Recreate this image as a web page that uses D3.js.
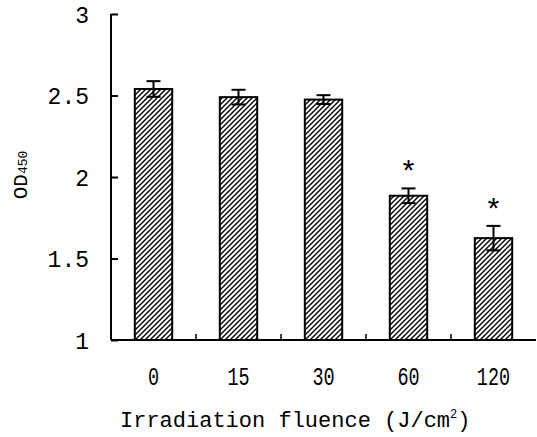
<!DOCTYPE html>
<html>
<head>
<meta charset="utf-8">
<script src="https://cdn.jsdelivr.net/npm/d3@7"></script>
<style>
  body { margin: 0; background: #fff; }
  text { font-family: "Liberation Mono", "DejaVu Sans Mono", monospace; fill: #000; }
</style>
</head>
<body>
<svg width="537" height="437"></svg>
<script>
// data
var categories = ['0', '15', '30', '60', '120'];
var means = [2.54, 2.49, 2.475, 1.885, 1.625];
var errors = [0.048, 0.045, 0.027, 0.045, 0.075];
var significant = [false, false, false, true, true];
var yTicks = [1, 1.5, 2, 2.5, 3];

var svg = d3.select('svg');
var svgWidth = +svg.attr('width');
var svgHeight = +svg.attr('height');
var padding = {t: 14, r: 1, b: 97, l: 111};

var chartWidth = svgWidth - padding.l - padding.r;
var chartHeight = svgHeight - padding.t - padding.b;

var data = categories.map(function(c, i) {
    return {cat: c, mean: means[i], err: errors[i], sig: significant[i]};
});

// hatch pattern for bars
var defs = svg.append('defs');
var pat = defs.append('pattern')
    .attr('id', 'hatch')
    .attr('patternUnits', 'userSpaceOnUse')
    .attr('width', 5)
    .attr('height', 5);
pat.append('rect').attr('width', 5).attr('height', 5).attr('fill', '#fff');
pat.append('path')
    .attr('d', 'M-1,1 l2,-2 M0,5 l5,-5 M4,6 l2,-2')
    .attr('stroke', '#000')
    .attr('stroke-width', 1.4);

var chartG = svg.append('g')
    .attr('transform', 'translate(' + [padding.l, padding.t] + ')');

var xScale = d3.scaleBand().domain(categories).range([0, chartWidth]).padding(0);
var yScale = d3.scaleLinear().domain([1, 3]).range([chartHeight, 0]);
var barWidth = xScale.bandwidth() * 0.44;

// bars
chartG.selectAll('rect.bar')
    .data(data)
    .enter()
    .append('rect')
    .attr('class', 'bar')
    .attr('x', function(d) { return xScale(d.cat) + (xScale.bandwidth() - barWidth) / 2; })
    .attr('y', function(d) { return yScale(d.mean); })
    .attr('width', barWidth)
    .attr('height', function(d) { return chartHeight - yScale(d.mean); })
    .attr('fill', 'url(#hatch)')
    .attr('stroke', '#000')
    .attr('stroke-width', 2);

// error bars
var capW = 7;
var eb = chartG.selectAll('g.err')
    .data(data)
    .enter()
    .append('g')
    .attr('class', 'err')
    .attr('stroke', '#000')
    .attr('stroke-width', 2);
eb.append('line')
    .attr('x1', function(d) { return xScale(d.cat) + xScale.bandwidth() / 2; })
    .attr('x2', function(d) { return xScale(d.cat) + xScale.bandwidth() / 2; })
    .attr('y1', function(d) { return yScale(d.mean + d.err); })
    .attr('y2', function(d) { return yScale(d.mean - d.err); });
eb.append('line')
    .attr('x1', function(d) { return xScale(d.cat) + xScale.bandwidth() / 2 - capW; })
    .attr('x2', function(d) { return xScale(d.cat) + xScale.bandwidth() / 2 + capW; })
    .attr('y1', function(d) { return yScale(d.mean + d.err); })
    .attr('y2', function(d) { return yScale(d.mean + d.err); });
eb.append('line')
    .attr('x1', function(d) { return xScale(d.cat) + xScale.bandwidth() / 2 - capW; })
    .attr('x2', function(d) { return xScale(d.cat) + xScale.bandwidth() / 2 + capW; })
    .attr('y1', function(d) { return yScale(d.mean - d.err); })
    .attr('y2', function(d) { return yScale(d.mean - d.err); });

// asterisks
chartG.selectAll('text.star')
    .data(data.filter(function(d) { return d.sig; }))
    .enter()
    .append('text')
    .attr('class', 'star')
    .attr('x', function(d) { return xScale(d.cat) + xScale.bandwidth() / 2; })
    .attr('y', function(d) { return yScale(d.mean + d.err) - 6; })
    .attr('text-anchor', 'middle')
    .style('font-size', '30px')
    .text('*');

// y axis
var yAxis = d3.axisRight(yScale).tickValues(yTicks).tickSize(7).tickFormat(d3.format('~g'));
var yG = chartG.append('g').attr('class', 'y axis').call(yAxis);
yG.select('.domain').remove();
yG.selectAll('.tick line').attr('stroke', '#000').attr('stroke-width', 2);
yG.selectAll('.tick text')
    .attr('x', -22)
    .attr('text-anchor', 'end')
    .attr('dy', '0.36em')
    .style('font-size', '23px');
yG.append('line')
    .attr('x1', 0).attr('x2', 0)
    .attr('y1', 0).attr('y2', chartHeight)
    .attr('stroke', '#000').attr('stroke-width', 2);

// x axis
var xG = chartG.append('g')
    .attr('class', 'x axis')
    .attr('transform', 'translate(0,' + chartHeight + ')');
xG.append('line')
    .attr('x1', 0).attr('x2', chartWidth)
    .attr('stroke', '#000').attr('stroke-width', 2);
xG.selectAll('line.sep')
    .data(categories.slice(1))
    .enter()
    .append('line')
    .attr('class', 'sep')
    .attr('x1', function(d) { return xScale(d); })
    .attr('x2', function(d) { return xScale(d); })
    .attr('y1', 0).attr('y2', -6)
    .attr('stroke', '#000').attr('stroke-width', 1.5);
xG.selectAll('text.xlab')
    .data(categories)
    .enter()
    .append('text')
    .attr('class', 'xlab')
    .attr('transform', function(d) {
        return 'translate(' + (xScale(d) + xScale.bandwidth() / 2) + ',45) scale(0.74,1)';
    })
    .attr('text-anchor', 'middle')
    .style('font-size', '25px')
    .text(function(d) { return d; });

// axis titles
var xTitle = svg.append('text')
    .attr('x', 120)
    .attr('y', 427)
    .style('font-size', '22px');
xTitle.append('tspan').text('Irradiation fluence (J/cm');
xTitle.append('tspan').attr('dy', -9).style('font-size', '12px').text('2');
xTitle.append('tspan').attr('dy', 9).text(')');

var yTitle = svg.append('text')
    .attr('transform', 'translate(27,175) rotate(-90)')
    .attr('text-anchor', 'middle');
yTitle.append('tspan').style('font-size', '21px').text('OD');
yTitle.append('tspan').style('font-size', '13px').text('450');
</script>
</body>
</html>
